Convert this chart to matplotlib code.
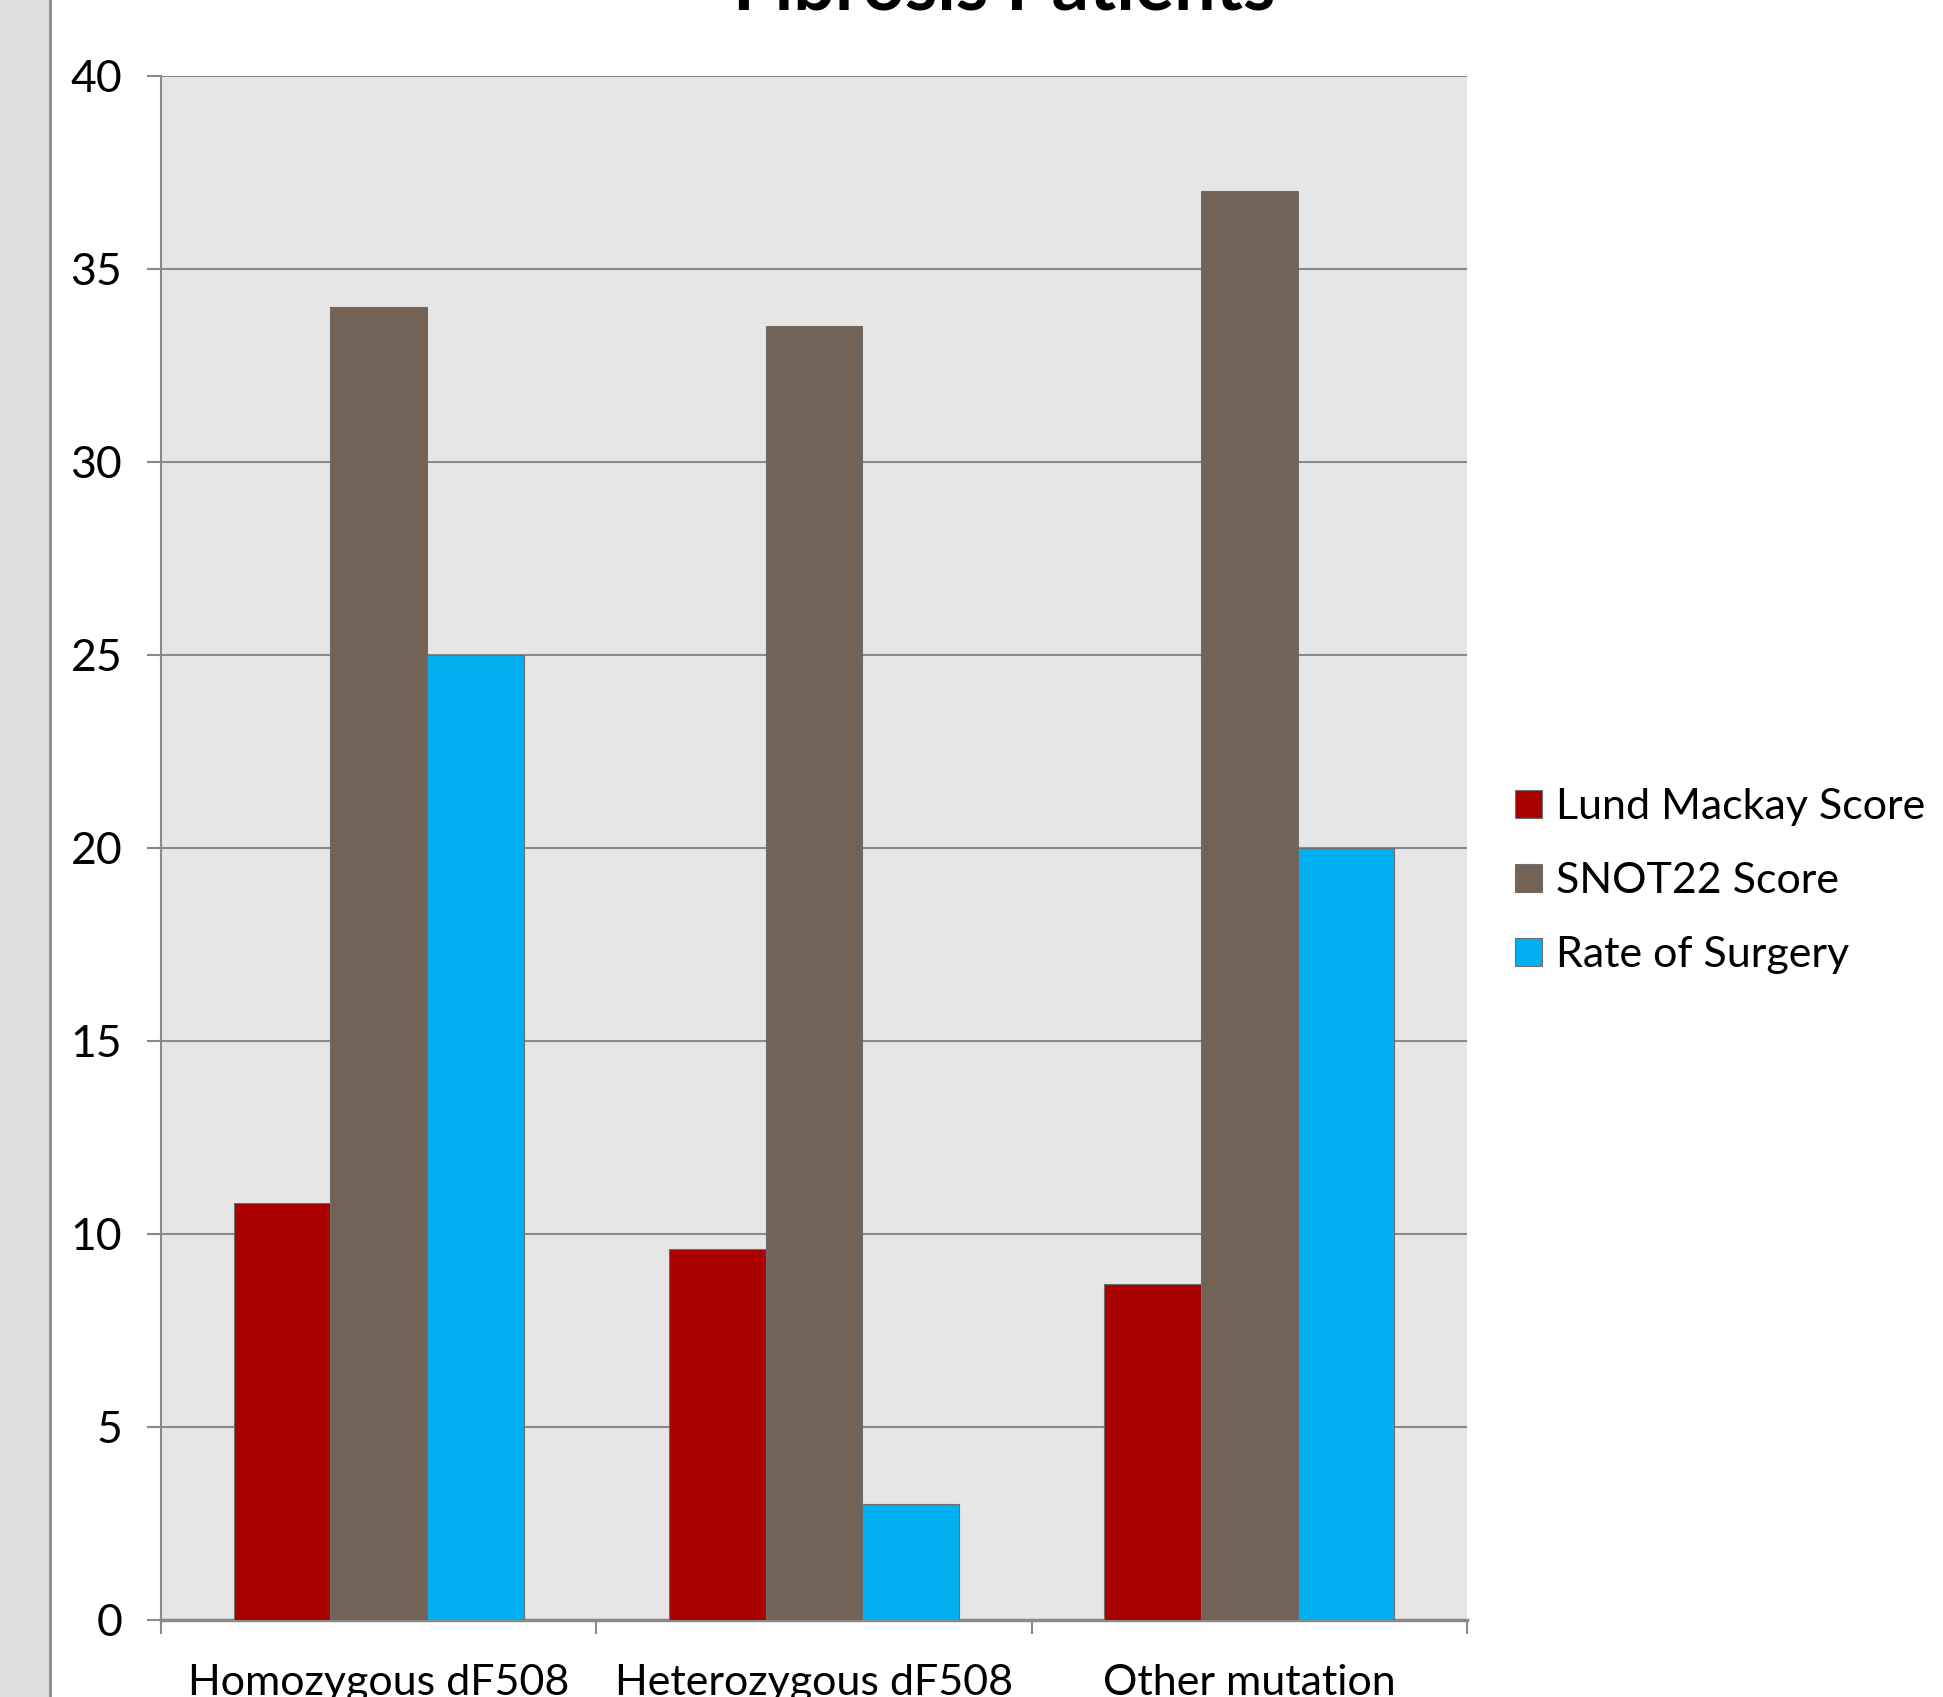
import numpy as np
import matplotlib.pyplot as plt
from matplotlib.patches import Rectangle

# Data
categories = ["Homozygous dF508", "Heterozygous dF508", "Other mutation"]
series_names = ["Lund Mackay Score", "SNOT22 Score", "Rate of Surgery"]
lund = [10.8, 9.6, 8.7]
snot = [34.0, 33.5, 37.0]
surgery = [25, 3, 20]
colors = ["#aa0000", "#736256", "#00b0f0"]
y_ticks = [0, 5, 10, 15, 20, 25, 30, 35, 40]

plt.rcParams['font.family'] = ['Lato', 'DejaVu Sans']

fig = plt.figure(figsize=(19.43, 16.97), dpi=100)
ax = fig.add_axes([0.0829, 0.0456, 0.755 - 0.0829, 0.9555 - 0.0456])

# grey strip on the left
fig.patches.append(Rectangle((0, 0), 0.0257, 1, transform=fig.transFigure,
                             facecolor="#dedede", edgecolor="none", zorder=0))
fig.add_artist(plt.Line2D([0.0257, 0.0257], [0, 1], transform=fig.transFigure,
                          color="#8c8c8c", lw=2))

x = np.arange(len(categories))
w = 1 / 4.5
for i, (vals, name) in enumerate(zip([lund, snot, surgery], series_names)):
    ax.bar(x + (i - 1) * w, vals, w, color=colors[i], edgecolor="#6e6e6e",
           linewidth=0.8, label=name, zorder=3)

ax.set_facecolor("#e6e6e6")
ax.set_xlim(-0.5, 2.5)
ax.set_ylim(0, 40)
ax.set_yticks(y_ticks)
ax.grid(axis='y', color="#8a8a8a", lw=1.5, zorder=1)
for s in ['top', 'right']:
    ax.spines[s].set_visible(False)
ax.spines['left'].set_color("#8a8a8a")
ax.spines['left'].set_linewidth(1.5)
ax.spines['bottom'].set_color("#8a8a8a")
ax.spines['bottom'].set_linewidth(2.5)

ax.tick_params(axis='y', length=10, width=1.5, color="#8a8a8a", labelsize=32, pad=18)
ax.set_xticks([-0.5, 0.5, 1.5, 2.5])
ax.set_xticklabels([])
ax.tick_params(axis='x', length=10, width=1.5, color="#8a8a8a")
ax.set_xticks(x, minor=True)
ax.set_xticklabels(categories, minor=True, fontsize=31)
ax.tick_params(axis='x', which='minor', length=0, pad=32)

fig.text(1004 / 1943, 1 - 10 / 1697, "Fibrosis Patients", ha='center', va='baseline',
         fontsize=53, fontweight='bold')

ax.legend(loc='center left', bbox_to_anchor=(1515 / 1943, 1 - 881 / 1697),
          bbox_transform=fig.transFigure, frameon=False, borderaxespad=0, borderpad=0,
          fontsize=31, handlelength=0.63, handleheight=0.63, handletextpad=0.32,
          labelspacing=0.83)

fig.savefig("out.png", dpi=100)
